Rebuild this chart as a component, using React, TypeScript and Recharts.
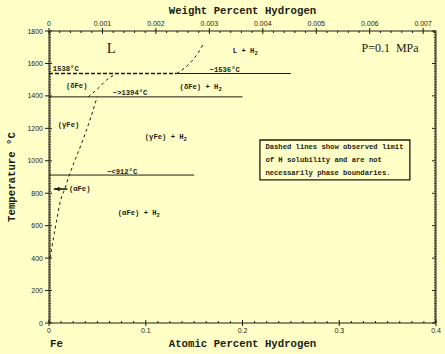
import React from 'react';
import { LineChart, Line, XAxis, YAxis, ReferenceDot, ReferenceArea } from 'recharts';

const INK = '#1e1c12';
const BG = '#ffffc8';
const MONO = '"Liberation Mono", "DejaVu Sans Mono", monospace';
const SANS = '"Liberation Sans", Arial, sans-serif';
const SERIF = '"Liberation Serif", "Times New Roman", serif';

// Observed H solubility limits (atomic % H vs temperature °C)
const alphaGammaCurve = [
  { x: 0.001, t: 400 },
  { x: 0.0055, t: 553 },
  { x: 0.0086, t: 655 },
  { x: 0.0113, t: 740 },
  { x: 0.0165, t: 830 },
  { x: 0.021, t: 912 },
  { x: 0.026, t: 990 },
  { x: 0.0337, t: 1108 },
  { x: 0.0423, t: 1251 },
  { x: 0.0498, t: 1394 },
];
const deltaCurve = [
  { x: 0.0405, t: 1394 },
  { x: 0.0508, t: 1447 },
  { x: 0.0595, t: 1498 },
  { x: 0.07, t: 1538 },
];
const liquidCurve = [
  { x: 0.132, t: 1538 },
  { x: 0.1385, t: 1564 },
  { x: 0.147, t: 1611 },
  { x: 0.154, t: 1663 },
  { x: 0.16, t: 1728 },
];
// Invariant lines
const line1538Dashed = [{ x: 0, t: 1538 }, { x: 0.132, t: 1538 }];
const line1536Solid = [{ x: 0.132, t: 1538 }, { x: 0.25, t: 1538 }];
const line1394 = [{ x: 0, t: 1394 }, { x: 0.2, t: 1394 }];
const line912 = [{ x: 0, t: 912 }, { x: 0.15, t: 912 }];
const alphaArrow = [{ x: 0.005, t: 826 }, { x: 0.019, t: 826 }];

// Axis ticks
const atomicTicks = [0, 0.1, 0.2, 0.3, 0.4];
const atomicLabels = ['0', '0.1', '0.2', '0.3', '0.4'];
const weightTicks = [0, 0.001, 0.002, 0.003, 0.004, 0.005, 0.006, 0.007];
const weightLabels = ['0', '0.001', '0.002', '0.003', '0.004', '0.005', '0.006', '0.007'];
const tempTicks = [0, 200, 400, 600, 800, 1000, 1200, 1400, 1600, 1800];
const WT_MAX = 0.00724; // 0.4 at.% H expressed in wt.%

// Region / annotation labels (atomic %, °C)
const annotations = [
  { x: 0.004, t: 1566, text: '1538°C' },
  { x: 0.166, t: 1560, text: '~1536°C' },
  { x: 0.0175, t: 1463, text: '(δFe)' },
  { x: 0.135, t: 1457, text: '(δFe) + H', sub: '2' },
  { x: 0.066, t: 1418, text: '~>1394°C' },
  { x: 0.009, t: 1221, text: '(γFe)' },
  { x: 0.099, t: 1147, text: '(γFe) + H', sub: '2' },
  { x: 0.06, t: 931, text: '~<912°C' },
  { x: 0.0206, t: 826, text: '(αFe)' },
  { x: 0.0711, t: 678, text: '(αFe) + H', sub: '2' },
  { x: 0.19, t: 1677, text: 'L + H', sub: '2' },
  { x: 0.2237, t: 1085, text: 'Dashed lines show observed limit' },
  { x: 0.2237, t: 1005, text: 'of H solubility and are not' },
  { x: 0.2237, t: 925, text: 'necessarily phase boundaries.' },
];
const bigLabels = [
  { x: 0.0598, t: 1695, text: 'L', size: 15 },
  { x: 0.323, t: 1695, text: 'P=0.1  MPa', size: 12 },
];
const noteBox = { x1: 0.218, x2: 0.373, t1: 882, t2: 1128 };

const subdivide = (majors: number[], n: number) => {
  const out: number[] = [];
  for (let i = 0; i < majors.length - 1; i++) {
    const step = (majors[i + 1] - majors[i]) / n;
    for (let k = 0; k < n; k++) out.push(+(majors[i] + k * step).toFixed(7));
  }
  out.push(majors[majors.length - 1]);
  return out;
};
const bottomAll = subdivide(atomicTicks, 8);
const topAll = subdivide(weightTicks, 5).concat([0.0072]);
const tempAll = subdivide(tempTicks, 20);

const idx = (arr: number[], v: number) => arr.findIndex((m) => Math.abs(m - v) < 1e-9);

const BottomTick = (p: any) => {
  const v = p.payload.value;
  const i = idx(atomicTicks, v);
  if (i < 0) return <line x1={p.x} x2={p.x} y1={p.y - 2} y2={p.y} stroke={INK} strokeWidth={1} />;
  return (
    <g>
      <line x1={p.x} x2={p.x} y1={p.y - 3} y2={p.y + 3} stroke={INK} strokeWidth={1} />
      <text x={p.x} y={p.y + 7} textAnchor="middle" dominantBaseline="central" fontSize={7} fontFamily={SANS} fill={INK}>
        {atomicLabels[i]}
      </text>
    </g>
  );
};
const TopTick = (p: any) => {
  const v = p.payload.value;
  const i = idx(weightTicks, v);
  if (i < 0) return <line x1={p.x} x2={p.x} y1={p.y} y2={p.y + 2} stroke={INK} strokeWidth={1} />;
  return (
    <g>
      <line x1={p.x} x2={p.x} y1={p.y - 3} y2={p.y + 3} stroke={INK} strokeWidth={1} />
      <text x={p.x} y={p.y - 8} textAnchor="middle" dominantBaseline="central" fontSize={7} fontFamily={SANS} fill={INK}>
        {weightLabels[i]}
      </text>
    </g>
  );
};
const LeftTick = (p: any) => {
  const v = p.payload.value;
  const i = idx(tempTicks, v);
  if (i < 0) return <line x1={p.x} x2={p.x + 2} y1={p.y} y2={p.y} stroke={INK} strokeWidth={0.8} />;
  return (
    <g>
      <line x1={p.x - 4} x2={p.x + 3} y1={p.y} y2={p.y} stroke={INK} strokeWidth={1} />
      <text x={p.x - 6} y={p.y} textAnchor="end" dominantBaseline="central" fontSize={7} fontFamily={SANS} fill={INK}>
        {tempTicks[i]}
      </text>
    </g>
  );
};
const RightTick = (p: any) => {
  const v = p.payload.value;
  const i = idx(tempTicks, v);
  const len = i < 0 ? 2 : 4;
  return <line x1={p.x - len} x2={p.x} y1={p.y} y2={p.y} stroke={INK} strokeWidth={i < 0 ? 0.8 : 1} />;
};

const AnnotationShape = (a: { text: string; sub?: string }) => (p: any) => (
  <text x={p.cx} y={p.cy} dominantBaseline="central" fontSize={7.2} fontWeight="bold" fontFamily={MONO} fill={INK}>
    {a.text}
    {a.sub ? (
      <tspan fontSize={5.5} dy={2}>
        {a.sub}
      </tspan>
    ) : null}
  </text>
);
const BigShape = (a: { text: string; size: number }) => (p: any) => (
  <text x={p.cx} y={p.cy} dominantBaseline="central" fontSize={a.size} fontFamily={SERIF} fill={INK} style={{ whiteSpace: 'pre' }}>
    {a.text}
  </text>
);
const ArrowHead = (p: any) => (
  <polygon points={`${p.cx - 3},${p.cy} ${p.cx + 2},${p.cy - 2.2} ${p.cx + 2},${p.cy + 2.2}`} fill={INK} />
);

const BottomTitle = (p: any) => {
  const vb = p.viewBox;
  return (
    <g>
      <text x={vb.x + vb.width / 2} y={vb.y + 21} textAnchor="middle" dominantBaseline="central" fontSize={10.7} fontWeight="bold" fontFamily={MONO} fill={INK}>
        Atomic Percent Hydrogen
      </text>
      <text x={vb.x + 1} y={vb.y + 21} dominantBaseline="central" fontSize={10.7} fontWeight="bold" fontFamily={MONO} fill={INK}>
        Fe
      </text>
    </g>
  );
};
const TopTitle = (p: any) => {
  const vb = p.viewBox;
  return (
    <text x={vb.x + vb.width / 2} y={vb.y + 11} textAnchor="middle" dominantBaseline="central" fontSize={10.7} fontWeight="bold" fontFamily={MONO} fill={INK}>
      Weight Percent Hydrogen
    </text>
  );
};
const LeftTitle = (p: any) => {
  const vb = p.viewBox;
  const cx = vb.x + 12;
  const cy = vb.y + vb.height / 2;
  return (
    <text x={cx} y={cy} transform={`rotate(-90 ${cx} ${cy})`} textAnchor="middle" dominantBaseline="central" fontSize={10.7} fontWeight="bold" fontFamily={MONO} fill={INK}>
      Temperature °C
    </text>
  );
};

const lineCommon = { dot: false, activeDot: false, isAnimationActive: false, dataKey: 't', stroke: INK } as const;

export default function App() {
  return (
    <div style={{ position: 'fixed', left: 0, top: 0, width: 445, height: 354, background: BG }}>
      <LineChart width={445} height={354} margin={{ top: 0, right: 0, bottom: 0, left: 0 }}>
        <XAxis
          dataKey="x"
          type="number"
          domain={[0, 0.4]}
          ticks={bottomAll}
          interval={0}
          tickSize={0}
          tickMargin={0}
          tick={<BottomTick />}
          height={31}
          axisLine={{ stroke: INK, strokeWidth: 1 }}
          tickLine={false}
          allowDataOverflow
          label={<BottomTitle />}
        />
        <XAxis
          xAxisId="top"
          orientation="top"
          dataKey="x"
          type="number"
          domain={[0, WT_MAX]}
          ticks={topAll}
          interval={0}
          tickSize={0}
          tickMargin={0}
          tick={<TopTick />}
          height={31}
          axisLine={{ stroke: INK, strokeWidth: 1 }}
          tickLine={false}
          allowDataOverflow
          label={<TopTitle />}
        />
        <YAxis
          type="number"
          domain={[0, 1800]}
          ticks={tempAll}
          interval={0}
          tickSize={0}
          tickMargin={0}
          tick={<LeftTick />}
          width={49}
          axisLine={{ stroke: INK, strokeWidth: 1 }}
          tickLine={false}
          allowDataOverflow
          label={<LeftTitle />}
        />
        <YAxis
          yAxisId="right"
          orientation="right"
          type="number"
          domain={[0, 1800]}
          ticks={tempAll}
          interval={0}
          tickSize={0}
          tickMargin={0}
          tick={<RightTick />}
          width={9}
          axisLine={{ stroke: INK, strokeWidth: 1 }}
          tickLine={false}
          allowDataOverflow
        />

        <ReferenceArea
          x1={noteBox.x1}
          x2={noteBox.x2}
          y1={noteBox.t1}
          y2={noteBox.t2}
          fill="none"
          fillOpacity={0}
          stroke={INK}
          strokeWidth={1.3}
          ifOverflow="visible"
        />

        <Line {...lineCommon} data={line1538Dashed} type="linear" strokeWidth={1.6} strokeDasharray="4 2" />
        <Line {...lineCommon} data={line1536Solid} type="linear" strokeWidth={1} />
        <Line {...lineCommon} data={line1394} type="linear" strokeWidth={1} />
        <Line {...lineCommon} data={line912} type="linear" strokeWidth={1} />
        <Line {...lineCommon} data={alphaGammaCurve} type="monotone" strokeWidth={1} strokeDasharray="3 3" />
        <Line {...lineCommon} data={deltaCurve} type="monotone" strokeWidth={1} strokeDasharray="3 3" />
        <Line {...lineCommon} data={liquidCurve} type="monotone" strokeWidth={1} strokeDasharray="3 3" />
        <Line {...lineCommon} data={alphaArrow} type="linear" strokeWidth={1.6} />
        <ReferenceDot x={0.009} y={826} r={0} shape={ArrowHead} ifOverflow="visible" />

        {annotations.map((a, i) => (
          <ReferenceDot key={'a' + i} x={a.x} y={a.t} r={0} shape={AnnotationShape(a)} ifOverflow="visible" />
        ))}
        {bigLabels.map((a, i) => (
          <ReferenceDot key={'b' + i} x={a.x} y={a.t} r={0} shape={BigShape(a)} ifOverflow="visible" />
        ))}
      </LineChart>
    </div>
  );
}
